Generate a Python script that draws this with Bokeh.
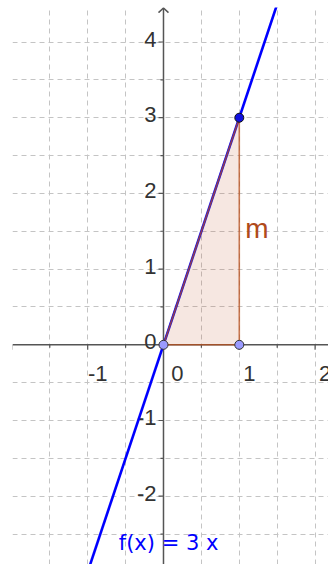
from bokeh.plotting import figure
from bokeh.models import Range1d, FixedTicker, Span
from bokeh.core.properties import value
from bokeh.embed import file_html
from bokeh.resources import INLINE

# ---- data ----
slope_m = 3          # f(x) = 3 x
intercept = 0
func_label = "f(x) = 3 x"
tri_x = [0, 1, 1]
tri_y = [0, 0, 3]
base_pts_x = [0, 1]
base_pts_y = [0, 0]
top_pt_x = [1]
top_pt_y = [3]
seg_label = "m"
x_grid = [-2, -1.5, -1, -0.5, 0.5, 1, 1.5, 2]
y_grid = [-2.5, -2, -1.5, -1, -0.5, 0.5, 1, 1.5, 2, 2.5, 3, 3.5, 4]
x_ticks = [-2, -1.5, -1, -0.5, 0.5, 1, 1.5, 2]
y_ticks = [-2.5, -2, -1.5, -1, -0.5, 0.5, 1, 1.5, 2, 2.5, 3, 3.5, 4]
x_label_vals = [-1, 0, 1, 2]
x_label_text = ["-1", "0", "1", "2"]
y_label_vals = [-2, -1, 0, 1, 2, 3, 4]
y_label_text = ["-2", "-1", "0", "1", "2", "3", "4"]
func_label_pos = (-0.59, -2.62)

# ---- view ----
X0, X1 = -1.992, 2.177
Y0, Y1 = -2.902, 4.456
W, H = 328, 564
LB, TB = 12, 7
sx = (W - LB) / (X1 - X0)
sy = (H - TB) / (Y1 - Y0)

AXC = "#555555"
FONT = value("Liberation Sans")

p = figure(width=W, height=H, x_range=Range1d(X0, X1), y_range=Range1d(Y0, Y1),
           output_backend="svg", toolbar_location=None,
           x_axis_location=None, y_axis_location=None,
           min_border_left=LB, min_border_right=0, min_border_top=TB, min_border_bottom=0)
p.outline_line_color = None
p.background_fill_color = "white"
p.border_fill_color = "white"

p.xgrid.ticker = FixedTicker(ticks=x_grid)
p.ygrid.ticker = FixedTicker(ticks=y_grid)
for g in (p.xgrid, p.ygrid):
    g.grid_line_color = "#c4c4c4"
    g.grid_line_dash = "5 4"
    g.grid_line_width = 1

# axes lines
p.add_layout(Span(location=0, dimension="width", line_color=AXC, line_width=1.5, level="underlay"))
p.add_layout(Span(location=0, dimension="height", line_color=AXC, line_width=1.5, level="underlay"))

# ticks
def tlen(v):
    return 5 if float(v).is_integer() else 3

p.segment(x0=x_ticks, x1=x_ticks, y0=[0] * len(x_ticks),
          y1=[-tlen(v) / sy for v in x_ticks], line_color=AXC, line_width=1.2)
p.segment(y0=y_ticks, y1=y_ticks, x0=[0] * len(y_ticks),
          x1=[-tlen(v) / sx for v in y_ticks], line_color=AXC, line_width=1.2)

# arrow head on y axis
apex = Y1 - 0.5 / sy
p.multi_line(xs=[[-5 / sx, 0, 5 / sx]], ys=[[apex - 4.6 / sy, apex, apex - 4.6 / sy]],
             line_color=AXC, line_width=1.5)

# tick labels
x_offs = [14 if v == 0 else 10 for v in x_label_vals]
p.text(x=x_label_vals, y=[0] * len(x_label_vals), text=x_label_text,
       text_align="center", text_baseline="alphabetic", x_offset=x_offs, y_offset=29,
       text_font=FONT, text_font_size="22px", text_color="#333333")
p.text(x=[0] * len(y_label_vals), y=y_label_vals, text=y_label_text,
       text_align="right", text_baseline="alphabetic", x_offset=-7, y_offset=-3,
       text_font=FONT, text_font_size="22px", text_color="#333333")

# function line
fx = [X0 - 0.1, X1 + 0.1]
fy = [slope_m * v + intercept for v in fx]
p.line(fx, fy, line_color="#0000ff", line_width=2.6)

# triangle
p.patch(tri_x, tri_y, fill_color="#c0582a", fill_alpha=0.14,
        line_color="#b8501e", line_width=1.6, line_alpha=0.75)

# points
p.scatter(base_pts_x, base_pts_y, size=9, fill_color="#9a9aff", line_color="#333333", line_width=1)
p.scatter(top_pt_x, top_pt_y, size=9, fill_color="#1010e0", line_color="#111111", line_width=1)

# labels
p.text(x=[tri_x[1]], y=[(tri_y[1] + tri_y[2]) / 2], text=[seg_label],
       text_align="left", text_baseline="alphabetic", x_offset=6, y_offset=-3,
       text_font=FONT, text_font_size="28px", text_color="#b04a1a")
p.text(x=[func_label_pos[0]], y=[func_label_pos[1]], text=[func_label],
       text_align="left", text_baseline="alphabetic",
       text_font=value("DejaVu Sans"), text_font_size="21px", text_color="#0000ff")

open("out.html", "w").write(file_html(p, INLINE))
